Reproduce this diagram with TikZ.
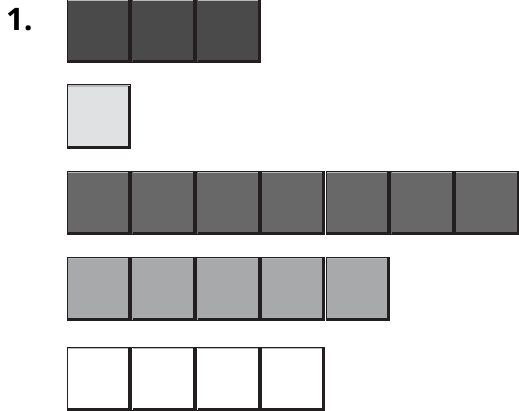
\documentclass[tikz,border=0pt]{standalone}
\usepackage{fontspec}
\setmainfont{Open Sans}
\definecolor{edge}{HTML}{231F20}
\definecolor{cdark}{HTML}{4A4A4B}
\definecolor{clight}{HTML}{E0E1E3}
\definecolor{cmid}{HTML}{686869}
\definecolor{cgray}{HTML}{A8A9AB}
\definecolor{hilite}{HTML}{B8B9BA}
\tikzset{
  tile/.style={rectangle, minimum width=63.5pt, minimum height=63.5pt, inner sep=0pt,
    draw=edge, line width=1pt,
    path picture={
      \draw[hilite, line width=1.4pt] ([xshift=1pt,yshift=-1.2pt]path picture bounding box.north west) -- ([xshift=-2pt,yshift=-1.2pt]path picture bounding box.north east);
      \draw[edge, line width=2.4pt] ([xshift=-1.2pt,yshift=-1pt]path picture bounding box.north east) -- ([xshift=-1.2pt,yshift=1.2pt]path picture bounding box.south east) -- ([xshift=1pt,yshift=1.2pt]path picture bounding box.south west);
    }},
  tdark/.style={tile, fill=cdark},
  tlight/.style={tile, fill=clight},
  tmid/.style={tile, fill=cmid},
  tgray/.style={tile, fill=cgray},
  twhite/.style={tile, fill=white},
  lbl/.style={font=\fontsize{31}{31}\selectfont\bfseries, inner sep=0pt, anchor=base west}
}
\begin{document}
\begin{tikzpicture}[x=1pt,y=-1pt]
\path[use as bounding box] (0,0) rectangle (519,411);
\begin{scope}
\clip (0,0) rectangle (519,411);
\node[lbl] (num) at (6,31) {1.};
\foreach \i in {0,1,2} \node[tdark] (a\i) at ({99+64.7*\i},31) {};
\node[tlight] (b0) at (99,116.5) {};
\foreach \i in {0,...,6} \node[tmid] (c\i) at ({99+64.7*\i},203) {};
\foreach \i in {0,...,4} \node[tgray] (d\i) at ({99+64.7*\i},289) {};
\foreach \i in {0,...,3} \node[twhite] (e\i) at ({99+64.7*\i},379) {};
\end{scope}
\end{tikzpicture}
\end{document}
